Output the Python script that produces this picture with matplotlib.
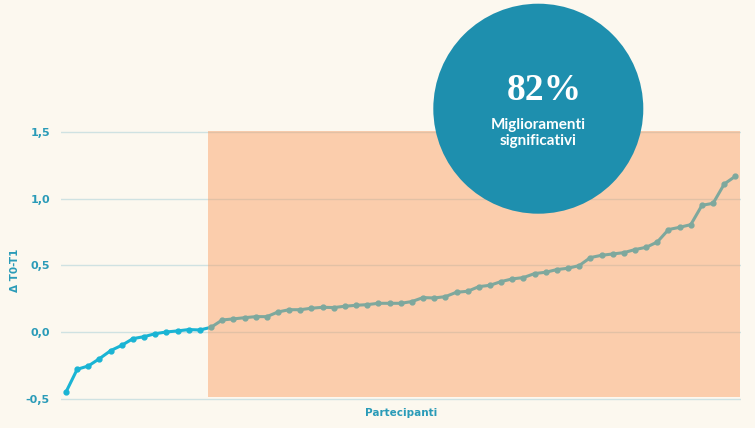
import matplotlib
matplotlib.use("Agg")
import matplotlib.pyplot as plt
from matplotlib.patches import Rectangle, Circle

# variazione individuale T0-T1, partecipanti ordinati
delta = [-0.45, -0.28, -0.255, -0.20, -0.14, -0.10, -0.05, -0.035, -0.013, 0.0,
         0.008, 0.018, 0.015, 0.035, 0.09, 0.098, 0.107, 0.115, 0.115, 0.15,
         0.167, 0.167, 0.178, 0.185, 0.183, 0.193, 0.20, 0.205, 0.215, 0.215,
         0.215, 0.228, 0.258, 0.255, 0.265, 0.298, 0.305, 0.34, 0.35, 0.378,
         0.398, 0.408, 0.438, 0.448, 0.468, 0.478, 0.498, 0.558, 0.575, 0.585,
         0.595, 0.618, 0.635, 0.675, 0.768, 0.785, 0.805, 0.95, 0.965, 1.11,
         1.168]
yticks = [-0.5, 0.0, 0.5, 1.0, 1.5]
ytick_labels = ["-0,5", "0,0", "0,5", "1,0", "1,5"]
percent_text = "82%"
circle_text = "Miglioramenti\nsignificativi"

bg = "#fcf8ef"
blue = "#1ab4d4"
teal = "#2a9bb8"
circle_col = "#1e8fae"

fig = plt.figure(figsize=(7.55, 4.28), dpi=100, facecolor=bg)
ax = fig.add_axes([61 / 755, 1 - 401.3 / 428, 680 / 755, 272 / 428])
ax.set_facecolor(bg)

x = list(range(len(delta)))
ax.plot(x, delta, color=blue, lw=2.2, marker="o", ms=3.5, zorder=3)

# zona dei miglioramenti
ax.add_patch(Rectangle((12.72, -0.49), 47.7, 2.0, facecolor="#fa9a5c",
                       alpha=0.45, edgecolor="none", zorder=4))

ax.set_xlim(-0.45, 60.5)
ax.set_ylim(-0.52, 1.52)
ax.set_yticks(yticks)
ax.set_yticklabels(ytick_labels)
ax.set_xticks([])
ax.grid(axis="y", color="#cfe2e2", lw=1, zorder=1)
ax.set_axisbelow(True)
for s in ax.spines.values():
    s.set_visible(False)
ax.tick_params(axis="y", length=0, pad=8, labelcolor=teal, labelsize=8)
for lab in ax.get_yticklabels():
    lab.set_fontweight("bold")
ax.set_ylabel("Δ T0-T1", color=teal, fontsize=7.5, fontweight="bold")
ax.yaxis.set_label_coords(-0.060, 0.483)
ax.set_xlabel("Partecipanti", color=teal, fontsize=7.5, fontweight="bold", labelpad=5)

# cerchio con percentuale
tr = fig.dpi_scale_trans
fig.patches.append(Circle((5.383, (428 - 108.7) / 100), 1.05, transform=tr,
                          facecolor=circle_col, edgecolor="none", zorder=10))
fig.text(5.44, (428 - 91) / 100, percent_text, transform=tr, ha="center", va="center",
         color="white", fontsize=27, fontweight="bold", family="Liberation Serif", zorder=11)
fig.text(5.38, (428 - 133) / 100, circle_text, transform=tr, ha="center", va="center",
         color="white", fontsize=11, fontweight="bold", family="Lato",
         linespacing=1.15, zorder=11)

fig.savefig("out.png", dpi=100, facecolor=bg)
